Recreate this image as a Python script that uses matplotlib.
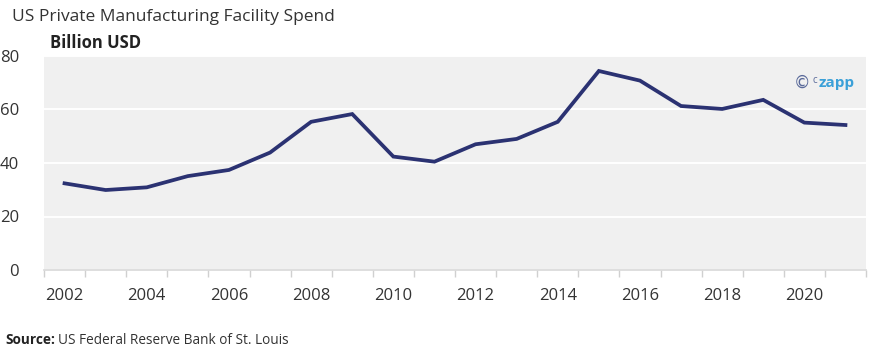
import matplotlib
matplotlib.use("Agg")
import matplotlib.pyplot as plt
import numpy as np

years = [2002, 2003, 2004, 2005, 2006, 2007, 2008, 2009, 2010, 2011,
         2012, 2013, 2014, 2015, 2016, 2017, 2018, 2019, 2020, 2021]
spend = [32.4, 29.9, 30.9, 35.1, 37.4, 43.9, 55.4, 58.3, 42.4, 40.5,
         47.0, 49.0, 55.4, 74.4, 70.8, 61.3, 60.2, 63.6, 55.1, 54.2]
yticks = [0, 20, 40, 60, 80]

plt.rcParams['font.family'] = ['Open Sans', 'DejaVu Sans']

fig = plt.figure(figsize=(8.82, 3.59), dpi=100)
ax = fig.add_axes([44/882, 1-270/359, (866-44)/882, (270-56)/359])
ax.set_facecolor('#f0f0f0')

x = np.arange(len(years))
ax.plot(x, spend, color='#2b3272', lw=2.7, solid_joinstyle='miter', zorder=3)

ax.set_xlim(-0.5, len(years)-0.5)
ax.set_ylim(0, 80)
ax.set_yticks(yticks)
ax.set_yticklabels([str(v) for v in yticks], fontsize=12, color='#333333')
ax.tick_params(axis='y', length=0, pad=18)
ax.grid(axis='y', color='white', lw=1.4, zorder=1)
ax.set_axisbelow(True)

# boundaries ticks
ax.set_xticks(np.arange(len(years)+1)-0.5)
ax.set_xticklabels([])
ax.tick_params(axis='x', which='major', length=5, color='#d0d0d0', width=1)
ax.set_xticks(x[::2], minor=True)
ax.set_xticklabels([str(y) for y in years[::2]], minor=True, fontsize=12, color='#333333')
ax.tick_params(axis='x', which='minor', length=0, pad=13)

for s in ['top', 'right', 'left']:
    ax.spines[s].set_visible(False)
ax.spines['bottom'].set_color('#d8d8d8')
ax.spines['bottom'].set_linewidth(1.2)

fig.text(12/882, 1-17/359, 'US Private Manufacturing Facility Spend', fontsize=12.5,
         color='#333333', va='center', ha='left')
fig.text(50/882, 1-43/359, 'Billion USD', fontsize=12, fontweight='bold',
         color='#222222', va='center', ha='left')

src = fig.text(5/882, 1-340/359, 'Source:', fontsize=9.8, fontweight='bold',
               color='#222222', va='center', ha='left')
fig.canvas.draw()
bb = src.get_window_extent(renderer=fig.canvas.get_renderer())
fig.text((bb.x1 + 3)/882, 1-340/359, 'US Federal Reserve Bank of St. Louis', fontsize=9.8,
         color='#333333', va='center', ha='left')

# watermark
ax.text(0.932, 0.875, '©', transform=ax.transAxes, fontsize=12, color='#5a6a9a',
        va='center', ha='right', family='DejaVu Sans')
ax.text(0.935, 0.885, 'c', transform=ax.transAxes, fontsize=7, color='#5a6a9a',
        va='center', ha='left')
ax.text(0.942, 0.875, 'zapp', transform=ax.transAxes, fontsize=11, color='#3aa0d8',
        va='center', ha='left', fontweight='bold')

fig.savefig('out.png', dpi=100)
